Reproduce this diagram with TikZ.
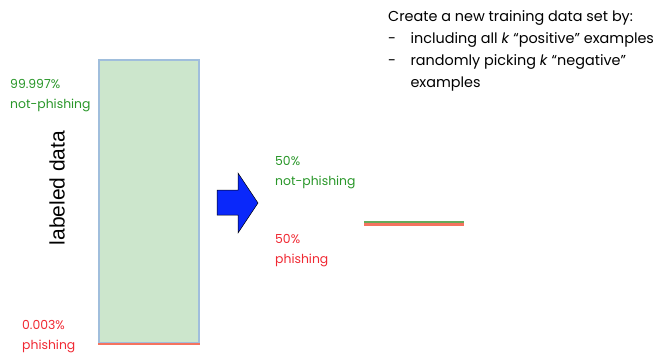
\documentclass[tikz,border=0pt]{standalone}
\usepackage{fontspec}
\setmainfont{Poppins}
\newfontfamily\arialfont{Liberation Sans}
\definecolor{ngreen}{RGB}{40,150,40}
\definecolor{nred}{RGB}{240,40,50}
\definecolor{boxfill}{RGB}{204,230,204}
\definecolor{boxline}{RGB}{160,190,220}
\definecolor{arrowblue}{RGB}{10,40,250}
\definecolor{linegreen}{RGB}{100,170,90}
\definecolor{linered}{RGB}{245,115,95}
\begin{document}
\begin{tikzpicture}[x=1pt,y=-1pt,
  lbl/.style={inner sep=0pt,anchor=north west,align=left,font=\fontsize{12.4}{20.5}\selectfont},
  grn/.style={lbl,text=ngreen},
  rd/.style={lbl,text=nred},
  note/.style={inner sep=0pt,anchor=north west,align=left,font=\fontsize{14.4}{22}\selectfont}]
\useasboundingbox (0,0) rectangle (672,357);
% tall box
\node[draw=boxline,line width=2pt,fill=boxfill,minimum width=100pt,minimum height=283pt,inner sep=0pt,anchor=north west] (box) at (98,59) {};
\draw[linered,line width=1.8pt] (box.south west) -- (box.south east);
\node[grn] (t1) at (10,79) {99.997\%\\not-phishing};
\node[rd] (t2) at (22,320) {0.003\%\\phishing};
\node[rotate=90,inner sep=0pt,font=\arialfont\fontsize{21}{24}\selectfont] (lab) at (57,188) {labeled data};
% block arrow
\draw[black,line width=0.5pt,fill=arrowblue] (217,190) -- (238,190) -- (238,173) -- (258,203) -- (238,233) -- (238,215) -- (217,215) -- cycle;
\node[grn] (t3) at (275,156) {50\%\\not-phishing};
\node[rd] (t4) at (275,234) {50\%\\phishing};
% small bar
\coordinate (la) at (364,222);
\coordinate (lb) at (464,222);
\coordinate (lc) at (364,224.5);
\coordinate (ld) at (464,224.5);
\draw[linegreen,line width=2.6pt] (la) -- (lb);
\draw[linered,line width=2.4pt] (lc) -- (ld);
% note
\node[note] (note) at (388,10) {Create a new training data set by:\\
-\hspace{1em}including all \textit{k} “positive” examples\\
-\hspace{1em}randomly picking \textit{k} “negative”\\
\hphantom{-\hspace{1em}}examples};
\end{tikzpicture}
\end{document}
